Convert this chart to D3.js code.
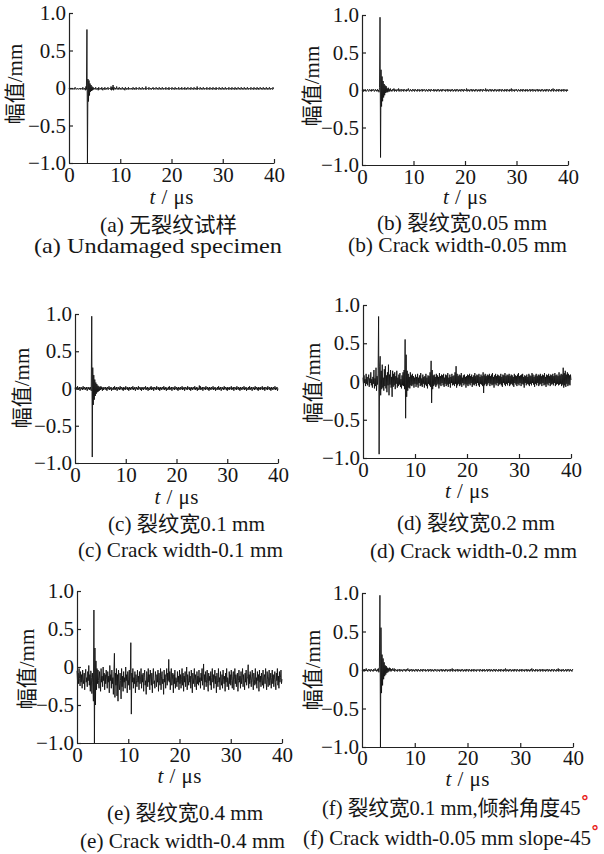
<!DOCTYPE html>
<html>
<head>
<meta charset="utf-8">
<script src="https://cdn.jsdelivr.net/npm/d3@7"></script>
<style>
    body { margin: 0; background: #fff; }
    svg { display: block; background: #fff; }
    text { font-family: "Liberation Serif", "Noto Sans CJK SC", serif; fill: #161616; }
    .axis path, .axis line { stroke: #222; stroke-width: 1.2px; }
    .signal { fill: none; stroke: #111; stroke-width: 0.9px; stroke-linejoin: round; }
</style>
</head>
<body>
<svg id="chart" width="604" height="854"></svg>
<script>
// sampling step of the waveforms (us); amplitudes are in 0.01 mm
const DT = 0.1;
const xTicks = [0, 10, 20, 30, 40];
const yTicks = [-1, -0.5, 0, 0.5, 1];
const yTickLabels = ['\u22121.0', '\u22120.5', '0', '0.5', '1.0'];
const yTitle = '幅值/mm';
const captionsZh = ['(a) 无裂纹试样', '(b) 裂纹宽0.05 mm', '(c) 裂纹宽0.1 mm', '(d) 裂纹宽0.2 mm', '(e) 裂纹宽0.4 mm', '(f) 裂纹宽0.1 mm,倾斜角度45'];
const captionsEn = ['(a) Undamaged specimen', '(b) Crack width-0.05 mm', '(c) Crack width-0.1 mm', '(d) Crack width-0.2 mm', '(e) Crack width-0.4 mm', '(f) Crack width-0.05 mm slope-45'];

const ampA = [
    -1,0,-2,-1,0,-1,-2,0,-1,-1,-2,0,1,-1,-2,-1,0,-1,-2,-1,
    0,-1,-2,0,-1,-1,-2,1,-1,-2,0,-1,-3,2,-2,78,-100,12,-18,10,
    -10,6,-5,4,-4,2,-3,1,-2,0,-1,-2,1,-1,-2,0,-1,-3,1,-1,
    -2,0,-1,-2,1,-1,-3,0,-1,-2,1,-2,-1,0,-2,-1,1,-2,-1,0,
    -1,-2,2,-3,1,-2,4,-3,1,-1,-2,0,-1,2,-2,-1,0,-2,1,-1,
    -2,0,-1,-2,1,-1,-2,0,-1,-3,1,-1,-2,0,-1,-2,1,-2,-1,0,
    -1,-2,0,-1,-2,1,-1,-2,0,-2,-1,1,-2,-1,0,-1,-2,1,-1,-2,
    0,-1,-2,1,-1,-2,0,-1,-1,-2,2,-2,-1,0,-1,-2,1,-1,-2,0,
    -1,-2,0,-1,1,-2,-1,0,-2,-1,1,-1,-2,0,-1,-2,1,-1,-2,0,
    -1,-2,1,-1,-2,0,-1,-1,-2,1,-1,-2,0,-1,-2,1,-2,-1,0,-1,
    -2,1,-1,-2,0,-1,-2,1,-1,-2,0,-1,-1,-2,1,-1,-2,0,-1,-2,
    1,-1,-2,0,-1,-2,1,-1,-2,0,-2,-1,1,-1,-2,0,-1,-2,1,-1,
    -2,0,-1,-2,1,-1,-2,0,-1,-2,2,-2,-1,0,-1,-2,1,-1,-2,0,
    -1,-2,1,-1,-2,0,-1,-1,-2,1,-1,-2,0,-1,-2,1,-1,-2,0,-1,
    -2,1,-1,-2,0,-1,-2,1,-2,-1,0,-1,-2,1,-1,-2,0,-1,-2,1,
    -1,-2,0,-1,-2,1,-1,-2,0,-1,-1,-2,1,-1,-2,0,-1,-2,1,-1,
    -2,0,-1,-2,1,-1,-2,0,-2,-1,1,-1,-2,0,-1,-2,1,-1,-2,0,
    -1,-2,1,-1,-2,0,-1,-2,1,-1,-2,0,-1,-1,-2,1,-1,-2,0,-1,
    -2,1,-1,-2,0,-1,-2,1,-1,-2,0,-2,-1,1,-1,-2,0,-1,-2,1,
    -1,-2,0,-1,-2,1,-1,-2,0,-1,-2,1,-1,-2,0,-1,-1,-2,1,-1,
    -1
];

const ampB = [
    0,-1,1,-2,0,-1,1,0,-2,-1,0,1,-1,-2,0,1,-1,0,-2,1,
    -1,0,1,-1,-2,0,1,-1,0,-2,1,-1,0,-3,3,97,-90,27,-22,18,
    -15,12,-10,8,-7,6,-4,5,-3,2,-3,3,-2,1,-2,2,-1,0,-2,1,
    -1,0,2,-2,1,-1,0,-2,1,0,-1,2,-2,0,1,-1,-2,1,0,-1,
    1,-2,0,1,-1,0,-2,1,-1,0,2,-1,-2,0,1,-1,0,-2,1,0,
    -1,1,-2,0,1,-1,0,-2,1,-1,0,1,-2,0,-1,1,0,-2,1,-1,
    0,1,-1,-2,0,1,-1,0,-2,1,0,-1,1,-2,0,1,-1,0,-1,1,
    -2,0,1,-1,0,-2,1,-1,0,1,-2,0,-1,1,0,-2,1,-1,0,1,
    -1,0,-2,1,0,-1,1,-2,0,1,-1,0,-2,1,-1,0,1,-2,0,-1,
    1,0,-2,1,-1,0,1,-2,0,-1,1,0,-2,1,0,-1,1,-2,0,1,
    -1,0,-1,2,-2,0,1,-1,0,-2,1,0,-1,1,-2,0,1,-1,0,-2,
    1,-1,0,1,-2,0,-1,1,0,-2,1,-1,0,1,-2,0,1,-1,0,-1,
    2,-2,0,1,-1,0,-2,1,0,-1,1,-2,0,1,-1,0,-2,1,-1,0,
    1,-2,0,-1,1,0,-2,1,-1,0,1,-2,0,1,-1,0,-2,1,0,-1,
    1,-2,0,1,-1,0,-2,1,-1,0,2,-2,0,1,-1,0,-2,1,0,-1,
    1,-1,-2,0,1,-1,0,-2,1,0,-1,1,-2,0,1,-1,0,-2,1,-1,
    0,1,-2,0,-1,1,0,-2,1,-1,0,1,-2,0,1,-1,0,-2,1,0,
    -1,1,-2,0,1,-1,0,-2,1,-1,0,1,-2,0,-1,1,0,-2,1,-1,
    0,1,-2,0,1,-1,0,-2,1,-1,0,2,-2,0,1,-1,0,-2,1,0,
    -1,1,-2,0,1,-1,0,-2,1,-1,0,1,-2,0,1,-1,0,-2,1,-1,
    0
];

const ampC = [
    1,-2,2,-1,0,3,-2,1,-1,2,-3,0,2,-1,1,-2,3,-1,0,2,
    -2,1,-1,2,-3,0,2,-1,1,-2,2,-1,-3,97,-92,28,-22,18,-15,12,
    -10,8,-7,6,-5,4,-4,3,-3,2,-2,3,-1,2,-3,1,-2,2,-1,0,
    2,-2,1,-3,2,0,-1,3,-2,1,-1,2,-3,1,0,-2,2,-1,3,-2,
    1,-1,2,-3,0,2,-1,1,-2,3,-1,0,2,-2,1,-3,2,-1,1,-2,
    3,-1,0,2,-2,1,-3,2,-1,1,-2,2,0,-1,3,-2,1,-1,2,-3,
    0,2,-1,1,-2,3,-1,0,2,-2,1,-3,2,-1,1,-2,2,0,-1,3,
    -2,1,-1,2,-3,1,0,-2,2,-1,3,-2,1,-1,2,-3,0,2,-1,1,
    -2,3,-1,0,2,-2,1,-3,2,-1,1,-2,2,0,-1,3,-2,1,-1,2,
    -3,1,0,-2,2,-1,3,-2,1,-1,2,-3,0,2,-1,1,-2,3,-1,0,
    2,-2,1,-3,2,-1,1,-2,2,0,-1,3,-2,1,-1,2,-3,0,2,-1,
    1,-2,3,-1,0,2,-2,1,-3,2,-1,1,-2,2,0,-1,3,-2,1,-1,
    2,-3,1,0,-2,4,-1,3,-2,1,-1,2,-3,0,2,-1,1,-2,3,-1,
    0,2,-2,1,-3,2,-1,1,-2,2,0,-1,3,-2,1,-1,2,-3,1,0,
    -2,2,-1,3,-2,1,-1,2,-3,0,2,-1,1,-2,3,-1,0,2,-2,1,
    -3,2,-1,1,-2,2,0,-1,3,-2,1,-1,2,-3,0,2,-1,1,-2,3,
    -1,0,2,-2,1,-3,2,-1,1,-2,2,0,-1,3,-2,1,-1,2,-3,1,
    0,-2,2,-1,3,-2,1,-1,2,-3,0,2,-1,1,-2,3,-1,0,2,-2,
    1,-3,2,-1,1,-2,2,0,-1,3,-2,1,-1,2,-3,0,2,-1,1,-2,
    3,-1,0,2,-2,1,-3,2,-1,1,-2,2,0,-1,3,-2,1,-1,2,-3,
    0
];

const ampD = [
    5,-4,8,-2,3,-6,10,-3,6,-5,2,9,-7,4,-2,12,-5,3,-8,6,
    -3,15,-9,4,-6,18,-12,7,-4,10,85,-95,20,33,-18,14,-10,22,-8,5,
    -12,16,-6,20,-9,8,-14,12,-5,22,-18,9,-4,15,-8,6,-20,14,-7,10,
    -5,12,-10,7,-3,14,-8,5,-6,9,-4,11,-7,3,-9,8,-5,12,-6,15,
    -10,55,-48,35,-20,14,-12,10,-8,6,-9,12,-5,8,-6,10,-4,7,-8,5,
    -3,9,-7,6,-4,10,-8,5,-2,8,-6,11,-5,4,-7,9,-3,6,-8,7,
    -4,10,-6,5,-9,8,-3,7,-5,12,-7,27,-28,15,-10,8,-6,9,-4,6,
    -7,10,-5,8,-3,6,-9,11,-4,7,-6,9,-2,8,-5,10,-7,5,-3,9,
    -6,8,-4,11,-7,5,-3,9,-8,6,-2,10,-5,7,-4,8,-6,12,-3,20,
    -8,10,-5,7,-3,9,-6,8,-4,11,-7,5,-2,8,-5,9,-3,6,-8,7,
    -4,9,-6,8,-3,10,-5,7,-2,9,-7,6,-4,8,-5,11,-3,7,-6,9,
    -2,8,-5,10,-7,6,-3,9,-4,7,-6,12,-15,8,-5,10,-3,7,-6,9,
    -4,8,-2,10,-6,7,-3,9,-5,11,-4,6,-8,8,-3,10,-5,7,-2,9,
    -6,8,-4,7,-3,10,-5,6,-7,9,-2,8,-4,11,-6,7,-3,9,-5,8,
    -2,10,-6,7,-4,9,-3,8,-5,6,-7,10,-2,8,-4,7,-6,9,-3,11,
    -5,7,-2,8,-6,9,-3,10,-4,6,-8,8,-2,7,-5,9,-3,6,-4,10,
    -6,8,-3,7,-5,11,-2,9,-4,6,-7,8,-3,10,-5,7,-2,9,-6,8,
    -4,10,-3,7,-6,9,-2,8,-5,11,-4,6,-7,9,-3,8,-5,10,-2,7,
    -6,9,-4,8,-3,10,-5,7,-2,11,-6,8,-4,9,-3,7,-5,12,-4,8,
    -3,10,-6,9,-4,18,-8,11,-5,14,-7,9,-3,12,-6,10,-4,8,-5,9,
    2
];

const ampE = [
    -5,-18,-8,-22,-2,-15,-25,-6,-20,-10,-28,-4,-16,-22,-8,-30,-12,-3,-20,-14,
    -26,-6,-18,2,-24,-10,-32,-5,-14,-35,-8,-20,-45,75,-100,25,-50,8,-30,-2,
    -22,-4,-18,-28,-6,-15,-32,-2,-20,-12,-26,0,-18,-8,-30,-10,-22,-4,-16,-28,
    -6,-20,-12,-34,2,-18,-10,-28,-4,-22,-14,-36,-6,18,-40,-8,-24,-2,-38,-10,
    -45,-4,-22,-30,-8,-18,-42,-2,-26,-12,-32,-6,-20,-14,-28,0,-18,-10,-34,-6,
    -16,-24,-4,-30,-12,32,-62,-8,-20,-2,-28,-14,-22,-6,-34,-10,-18,-26,-4,-20,
    -12,-30,-6,-22,-16,-2,-28,-10,-20,-8,-32,-14,-4,-24,-18,-36,-6,-12,-26,-2,
    -20,-10,-30,-4,-16,-24,-8,-34,-12,-2,-22,-18,-28,-6,-14,-26,-10,-20,-4,-32,
    -8,-18,-24,-2,-30,-12,-6,-22,-16,-36,-4,-20,-10,-28,-14,-2,-24,-8,-18,10,
    -20,-6,-30,-12,-2,-24,-16,-8,-34,-10,-22,-4,-28,-14,-18,-26,-6,-20,-12,-30,
    -4,-22,-10,-28,-16,-2,-24,-8,-32,-12,-20,-6,-26,-14,0,-30,-10,-18,-24,-6,
    -20,-12,-28,-4,-16,-34,-8,-22,-14,-2,-26,-10,-18,-30,-6,-22,-12,-24,-4,-20,
    -14,-28,-8,-18,-2,-24,-12,4,-30,-10,-20,-6,-26,-16,-4,-22,-32,-8,-18,-12,
    -24,-6,-30,-14,-2,-20,-10,-28,-16,-4,-22,-12,-34,-8,-18,-26,-2,-20,-14,-30,
    -6,-18,-24,-10,-28,-4,-16,-22,-12,-32,-8,-20,-2,-26,-14,-18,-30,-6,-22,-10,
    -24,-4,-18,-28,-12,-6,-30,-16,-2,-22,-10,-26,-14,-8,-32,-18,-4,-20,-12,-28,
    -6,-22,-14,-2,-26,-10,-18,-30,-8,-20,-4,-24,-16,-12,3,-28,-10,-22,-6,-18,
    -26,-12,-4,-20,-30,-8,-16,-24,-2,-22,-14,-28,-6,-18,-10,-32,-4,-20,-12,-26,
    -8,-18,-24,-4,-28,-14,-10,-22,-2,-20,-30,-6,-16,-26,-12,-4,-24,-18,-8,-28,
    -14,-4,-22,-10,-26,-16,-6,-20,-30,-8,-18,-2,-24,-12,-28,-6,-20,-14,-4,-22,
    -16
];

const ampF = [
    0,-1,1,0,-2,1,-1,0,2,-1,0,-2,1,0,-1,1,-2,0,1,-1,
    0,-2,1,-1,0,2,-1,0,-2,1,-1,2,-3,4,97,-100,55,-30,20,-20,
    15,-12,10,-8,6,-6,5,-4,3,-3,2,-2,3,-1,2,-2,1,-1,2,0,
    -1,2,-2,0,1,-1,0,-2,1,0,-1,1,-2,0,1,-1,0,-2,1,0,
    -1,1,0,-2,1,-1,0,2,-1,0,-2,1,-1,0,1,-2,0,1,-1,0,
    -2,1,0,-1,1,-2,0,1,-1,0,-2,1,0,-1,1,-2,0,1,-1,0,
    1,-2,0,-1,1,0,-2,1,-1,0,1,-2,0,1,-1,0,-2,1,0,-1,
    1,-1,-2,0,1,-1,0,-2,1,0,-1,1,-2,0,1,-1,0,-2,1,-1,
    0,1,-2,0,-1,1,0,-2,1,-1,0,2,-2,0,1,-1,0,-2,1,0,
    -1,1,-2,0,1,-1,0,-2,1,-1,0,1,-2,0,-1,1,0,-2,1,-1,
    0,1,-2,0,1,-1,0,-2,1,-1,0,1,-2,0,1,-1,0,-2,1,0,
    -1,0,1,-2,0,1,-1,0,-2,1,-1,0,1,-2,0,-1,1,0,-2,1,
    -1,0,1,-2,0,1,-1,0,-2,1,0,-1,1,-2,0,1,-1,0,-2,1,
    0,-1,1,-2,0,1,-1,0,-2,1,-1,0,2,-2,0,1,-1,0,-2,1,
    -1,0,1,-2,0,-1,1,0,-2,1,-1,0,1,-2,0,1,-1,0,-2,1,
    0,-1,1,-2,0,1,-1,0,-2,1,0,-1,1,-2,0,1,-1,0,-2,1,
    -1,0,2,-2,0,1,-1,0,-2,1,-1,0,1,-2,0,-1,1,0,-2,1,
    0,-1,1,-2,0,1,-1,0,-2,1,-1,0,1,-2,0,1,-1,0,-2,1,
    -1,0,1,-2,0,1,-1,0,-2,1,0,-1,2,-2,0,1,-1,0,-2,1,
    -1,0,1,-2,0,-1,1,0,-2,1,-1,0,1,-2,0,1,-1,0,-2,1,
    0
];

const series = [ampA, ampB, ampC, ampD, ampE, ampF];

// plot frames in page pixels: axis extents, titles, captions as [left, baseline, width]
const layout = [
    { x0: 69,  x1: 274, y0: 13,  y1: 163, yt: 15,  ytc: 84,  tick: 182, tl: 204, zh: [100, 232, 137], en: [34, 253, 248] },
    { x0: 362, x1: 568, y0: 15,  y1: 165, yt: 312, ytc: 86,  tick: 184, tl: 204, zh: [377, 230, 170], en: [348, 252, 219] },
    { x0: 75,  x1: 278, y0: 314, y1: 463, yt: 22,  ytc: 388, tick: 482, tl: 504, zh: [108, 531, 157], en: [78, 557, 205] },
    { x0: 363, x1: 571, y0: 305, y1: 458, yt: 313, ytc: 383, tick: 477, tl: 498, zh: [397, 530, 158], en: [370, 558, 207] },
    { x0: 77,  x1: 282, y0: 591, y1: 743, yt: 27,  ytc: 669, tick: 762, tl: 783, zh: [107, 820, 156], en: [80, 848, 205] },
    { x0: 362, x1: 573, y0: 593, y1: 747, yt: 313, ytc: 670, tick: 765, tl: 786, zh: [322, 815, 267], en: [303, 845, 296] },
];

const svg = d3.select('#chart');

layout.forEach((p, k) => {
    const x = d3.scaleLinear().domain([0, 40]).range([p.x0, p.x1]);
    const y = d3.scaleLinear().domain([-1, 1]).range([p.y1, p.y0]);
    const g = svg.append('g');

    const line = d3.line()
        .x((d, i) => x(i * DT))
        .y(d => y(d / 100));
    g.append('path').attr('class', 'signal').attr('d', line(series[k]));

    const yAxis = d3.axisLeft(y)
        .tickValues(yTicks)
        .tickFormat((d, i) => yTickLabels[i])
        .tickSizeInner(-4)
        .tickSizeOuter(0)
        .tickPadding(3);
    g.append('g').attr('class', 'axis').attr('transform', `translate(${p.x0},0)`).call(yAxis);

    const xAxis = d3.axisBottom(x)
        .tickValues(xTicks)
        .tickSizeInner(-4)
        .tickSizeOuter(0)
        .tickPadding(0);
    const xa = g.append('g').attr('class', 'axis').attr('transform', `translate(0,${p.y1})`).call(xAxis);

    g.selectAll('.axis text').attr('font-size', 21).attr('font-family', '"Liberation Serif", serif');
    xa.selectAll('text').attr('dy', null).attr('y', p.tick - p.y1);
    xa.select('.tick line').remove();

    const tl = g.append('text')
        .attr('x', (p.x0 + p.x1) / 2 - 22)
        .attr('y', p.tl)
        .attr('font-size', 21)
        .attr('textLength', 44)
        .attr('lengthAdjust', 'spacing');
    tl.append('tspan').attr('font-style', 'italic').text('t');
    tl.append('tspan').text(' / μs');

    g.append('text')
        .attr('transform', `translate(${p.yt},${p.ytc}) rotate(-90)`)
        .attr('text-anchor', 'middle')
        .attr('dominant-baseline', 'central')
        .attr('font-size', 21)
        .text(yTitle);

    [[captionsZh[k], p.zh, 21], [captionsEn[k], p.en, 22]].forEach(([txt, pos, fs]) => {
        const t = g.append('text')
            .attr('x', pos[0]).attr('y', pos[1])
            .attr('font-size', fs)
            .attr('textLength', pos[2])
            .attr('lengthAdjust', 'spacingAndGlyphs')
            .text(txt);
        if (k === 5) {
            t.append('tspan')
                .attr('dy', -7)
                .attr('font-size', 17)
                .style('fill', '#e8231c')
                .style('font-weight', 'bold')
                .style('font-family', '"DejaVu Sans", sans-serif')
                .text('°');
        }
    });
});
</script>
</body>
</html>
